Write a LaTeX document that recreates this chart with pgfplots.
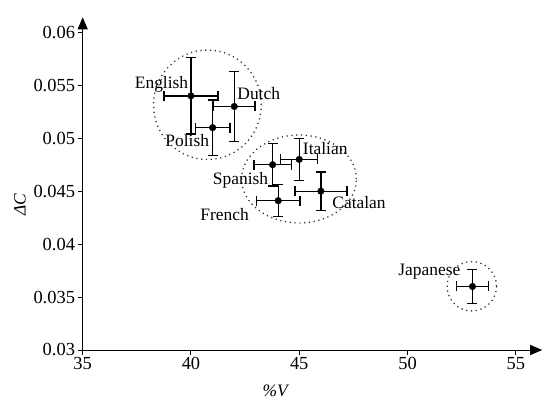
\documentclass[border=0pt]{standalone}
\usepackage{fontspec}
\setmainfont{Liberation Serif}
\usepackage{pgfplots}
\pgfplotsset{compat=1.18}
\usetikzlibrary{arrows.meta,calc}

\pgfplotstableread{
x     y       ex    ey
40    0.0540  1.25  0.0036
42    0.0530  0.95  0.0033
41    0.0510  0.80  0.0026
45    0.0480  0.85  0.0020
43.77 0.0475  0.86  0.0020
46    0.0450  1.20  0.0018
44.03 0.0441  1.00  0.0015
53    0.0360  0.75  0.0016
}\langdata

\begin{document}
\begin{tikzpicture}
\begin{axis}[
  scale only axis,
  width=459.5bp, height=332.7bp,
  xmin=35, xmax=56.22, ymin=0.03, ymax=0.06142,
  axis lines=left,
  axis line style={line width=1bp, -{Triangle[length=12bp,width=10bp]}},
  scaled y ticks=false, scaled x ticks=false,
  xtick={35,40,45,50,55},
  xticklabels={35,40,45,50,55},
  ytick={0.03,0.035,0.04,0.045,0.05,0.055,0.06},
  yticklabels={0.03,0.035,0.04,0.045,0.05,0.055,0.06},
  tick align=outside,
  major tick length=5bp,
  tick style={line width=1bp, black},
  tick label style={font=\fontsize{18.5}{21}\selectfont},
  yticklabel style={inner sep=2.5bp},
  xticklabel style={inner sep=2.5bp},
  /pgf/number format/assume math mode=true,
  clip=false,
]
\coordinate (O) at (axis cs:35,0.03);
\addplot[only marks, mark=*, mark size=3.3bp, black, mark options={fill=black},
  error bars/.cd, x dir=both, x explicit, y dir=both, y explicit,
  error bar style={line width=1.3bp, black},
  error mark options={rotate=90, mark size=5bp, line width=1.3bp, black}]
  table[x=x, y=y, x error=ex, y error=ey] {\langdata};

\draw[line width=1.3bp, dash pattern=on 1.2bp off 3.6bp, black!80] (axis cs:40.76,0.05316) ellipse [x radius=2.49, y radius=0.00517];
\draw[line width=1.3bp, dash pattern=on 1.2bp off 3.6bp, black!80] (axis cs:44.99,0.04615) ellipse [x radius=2.65, y radius=0.00415];
\draw[line width=1.3bp, dash pattern=on 1.2bp off 3.6bp, black!80] (axis cs:52.97,0.03602) ellipse [x radius=1.14, y radius=0.00233];

\begin{scope}[every node/.style={font=\fontsize{17.5}{20}\selectfont, inner sep=0pt}]
\node at (axis cs:38.64,0.05512) {English};
\node at (axis cs:43.13,0.05424) {Dutch};
\node at (axis cs:39.83,0.04978) {Polish};
\node at (axis cs:46.2,0.04905) {Italian};
\node at (axis cs:42.29,0.04605) {Spanish};
\node at (axis cs:47.76,0.04393) {Catalan};
\node at (axis cs:41.55,0.04284) {French};
\node at (axis cs:51.01,0.03737) {Japanese};
\node[rotate=90] at (axis cs:32.1,0.0437) {\textit{ΔC}};
\node at (axis cs:43.93,0.02613) {\textit{\%V}};
\end{scope}
\end{axis}
\pgfresetboundingbox
\path[use as bounding box] ($(O)+(-82.7bp,-51bp)$) rectangle ($(O)+(460.3bp,350bp)$);
\end{tikzpicture}
\end{document}
